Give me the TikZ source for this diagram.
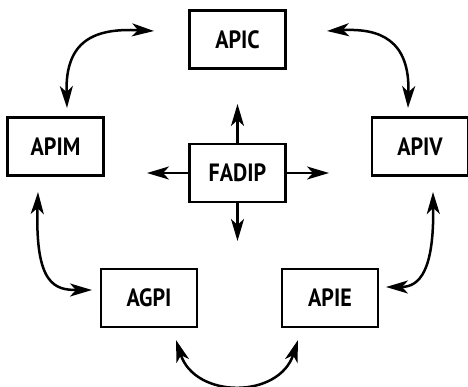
\documentclass[tikz,border=0pt]{standalone}
\usepackage{fontspec}
\setmainfont{PT Sans}[FakeStretch=0.88]
\usetikzlibrary{arrows.meta}
\begin{document}
\begin{tikzpicture}[x=1pt,y=-1pt,
  box/.style={draw,line width=2.4pt,minimum width=96pt,minimum height=58pt,inner sep=0pt,
    font=\fontsize{25}{28}\selectfont\bfseries},
  arr/.style={line width=2.5pt,-{Stealth[length=22pt,width=13pt,inset=6pt]}},
  darr/.style={line width=2.5pt,{Stealth[length=22pt,width=13pt,inset=6pt]}-{Stealth[length=22pt,width=13pt,inset=6pt]}}]
\useasboundingbox (0,0) rectangle (468,386);
\node[box] (apic) at (237.5,39.5) {APIC};
\node[box] (apim) at (55.5,146.5) {APIM};
\node[box] (apiv) at (420,146.5) {APIV};
\node[box] (fadip) at (237.5,173) {FADIP};
\node[box] (agpi) at (149,298) {AGPI};
\node[box] (apie) at (330,298) {APIE};
% free ends
\coordinate (fu) at (237.5,104);
\coordinate (fd) at (237.5,241);
\coordinate (fl) at (147,173);
\coordinate (fr) at (329,173);
\draw[arr] (fadip.north) -- (fu);
\draw[arr] (fadip.south) -- (fd);
\draw[arr] (fadip.west) -- (fl);
\draw[arr] (fadip.east) -- (fr);
% curved
\coordinate (c1a) at (154,31);
\coordinate (c1b) at (67,108);
\coordinate (c2a) at (327,31);
\coordinate (c2b) at (408,108);
\coordinate (c3a) at (38,192);
\coordinate (c3b) at (92,290);
\coordinate (c4a) at (433,192);
\coordinate (c4b) at (386,287);
\coordinate (c5a) at (176,340);
\coordinate (c5b) at (298,340);
\draw[darr] (c1a) .. controls (95,28) and (65,40) .. (c1b);
\draw[darr] (c2a) .. controls (380,28) and (410,40) .. (c2b);
\draw[darr] (c3a) .. controls (35,285) and (55,290) .. (c3b);
\draw[darr] (c4a) .. controls (434,270) and (420,287) .. (c4b);
\draw[darr] (c5a) .. controls (195,399) and (279,399) .. (c5b);
\end{tikzpicture}
\end{document}
